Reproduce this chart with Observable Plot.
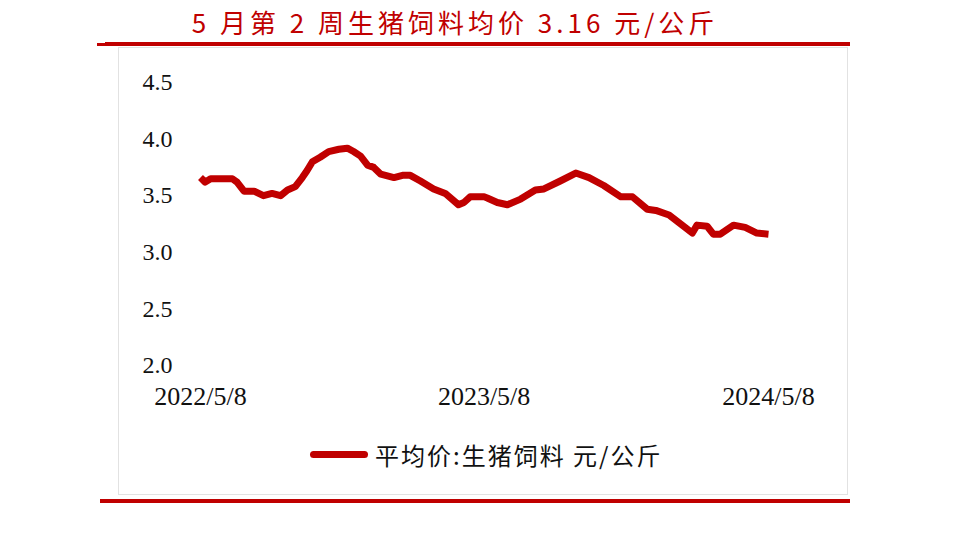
<!DOCTYPE html>
<html><head><meta charset="utf-8">
<script src="https://cdn.jsdelivr.net/npm/d3@7"></script>
<script src="https://cdn.jsdelivr.net/npm/@observablehq/plot@0.6"></script>
<style>
html,body{margin:0;padding:0;background:#fff;width:954px;height:553px;overflow:hidden;position:relative;}
#title{position:absolute;left:0;width:910px;top:6px;text-align:center;font-family:"Noto Sans CJK SC";font-size:26px;color:#c00000;letter-spacing:4px;line-height:32px;}
.rule{position:absolute;background:#c00000;}
#frame{position:absolute;left:118px;top:47px;width:730px;height:448px;border:1px solid #e2e2e2;box-sizing:border-box;}
#chart{position:absolute;left:0;top:0;}
#legend{position:absolute;left:310px;top:437px;display:flex;align-items:center;font-family:"Noto Sans CJK SC";font-size:24px;letter-spacing:2px;color:#111;}
#legend .sw{width:58px;height:7px;border-radius:4px;background:#c00000;margin-right:7px;}
</style></head>
<body>
<div id="title">5 月第 2 周生猪饲料均价 3.16 元/公斤</div>
<div class="rule" style="left:105px;top:42px;width:745px;height:4px"></div>
<div class="rule" style="left:97px;top:43px;width:12px;height:3px"></div>
<div id="frame"></div>
<div id="chart"></div>
<div id="legend"><div class="sw"></div><span>平均价:生猪饲料 元/公斤</span></div>
<div class="rule" style="left:100px;top:499px;width:750px;height:4px"></div>
<script>
const dates = ["2022-05-08","2022-05-14","2022-05-21","2022-06-18","2022-06-24","2022-07-03","2022-07-16","2022-07-28","2022-08-08","2022-08-19","2022-08-28","2022-09-07","2022-09-16","2022-09-22","2022-09-29","2022-10-09","2022-10-20","2022-11-02","2022-11-13","2022-11-21","2022-11-30","2022-12-09","2022-12-17","2022-12-26","2023-01-12","2023-01-23","2023-02-02","2023-02-15","2023-03-04","2023-03-19","2023-04-05","2023-04-12","2023-04-20","2023-05-08","2023-05-12","2023-05-25","2023-06-07","2023-06-24","2023-07-13","2023-07-24","2023-08-14","2023-09-03","2023-09-20","2023-10-09","2023-10-31","2023-11-15","2023-12-04","2023-12-15","2024-01-01","2024-01-16","2024-01-31","2024-02-06","2024-02-19","2024-02-27","2024-03-07","2024-03-24","2024-04-08","2024-04-23","2024-05-08"];
const prices = [3.66,3.62,3.65,3.65,3.62,3.54,3.54,3.50,3.52,3.50,3.55,3.58,3.66,3.72,3.80,3.84,3.89,3.91,3.92,3.89,3.85,3.77,3.75,3.69,3.66,3.68,3.68,3.63,3.56,3.52,3.42,3.44,3.49,3.49,3.48,3.44,3.42,3.47,3.55,3.56,3.63,3.70,3.66,3.59,3.49,3.49,3.38,3.37,3.33,3.25,3.17,3.24,3.23,3.16,3.16,3.24,3.22,3.17,3.16];
const xTicks = ["2022-05-08","2023-05-08","2024-05-08"];
const yTicks = [2.0,2.5,3.0,3.5,4.0,4.5];

const parse = d3.utcParse("%Y-%m-%d");
const data = dates.map((d,i)=>({date:parse(d), value:prices[i]}));
const fmt = d => `${d.getUTCFullYear()}/${d.getUTCMonth()+1}/${d.getUTCDate()}`;

const chart = Plot.plot({
  width:954, height:430,
  marginLeft:200, marginRight:186, marginTop:82, marginBottom:65,
  style:{fontFamily:"Liberation Serif", fontSize:"24px", color:"#111", background:"transparent"},
  x:{type:"utc", domain:[parse(xTicks[0]), parse(xTicks[2])]},
  y:{domain:[2,4.5]},
  marks:[
    Plot.axisY({ticks:yTicks, tickFormat:d=>d.toFixed(1), tickSize:0, tickPadding:28, label:null, fontSize:24}),
    Plot.axisX({ticks:xTicks.map(parse), tickFormat:fmt, tickSize:0, tickPadding:21, label:null, fontSize:26}),
    Plot.line(data,{x:"date", y:"value", stroke:"#c00000", strokeWidth:7, strokeLinejoin:"round", strokeLinecap:"butt"})
  ]
});
document.getElementById("chart").appendChild(chart);
</script>
</body></html>
